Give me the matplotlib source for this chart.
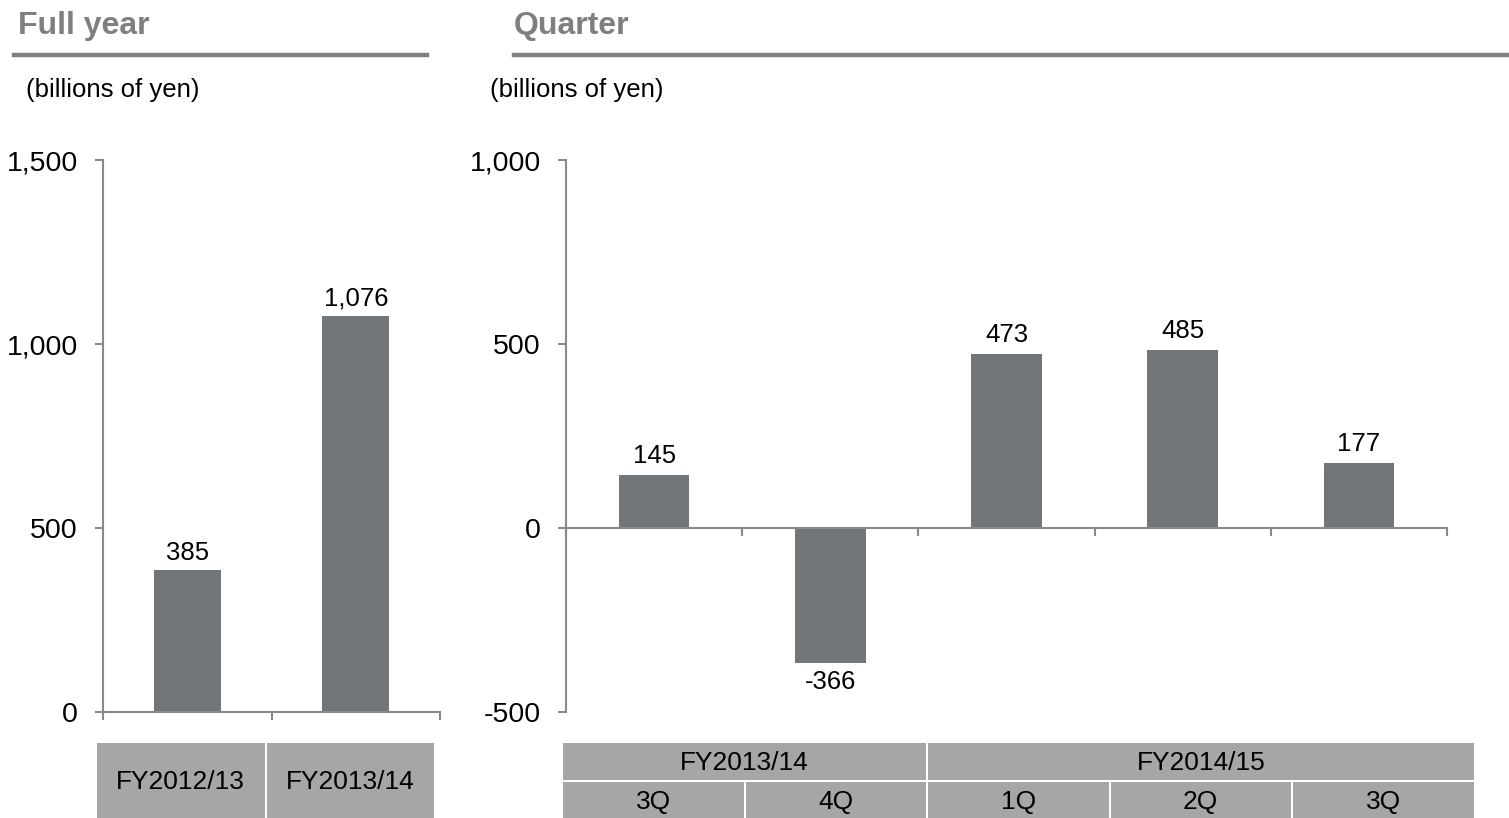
import matplotlib
matplotlib.use("Agg")
import matplotlib.pyplot as plt
from matplotlib.patches import Rectangle
from matplotlib.lines import Line2D
from matplotlib.ticker import FuncFormatter

plt.rcParams['font.family'] = ['Liberation Sans', 'DejaVu Sans']

# ---- data ----
fy_labels = ["FY2012/13", "FY2013/14"]
fy_values = [385, 1076]
q_groups = ["FY2013/14", "FY2014/15"]
q_group_sizes = [2, 3]
q_labels = ["3Q", "4Q", "1Q", "2Q", "3Q"]
q_values = [145, -366, 473, 485, 177]
fy_yticks = [0, 500, 1000, 1500]
q_yticks = [-500, 0, 500, 1000]

W, H = 1509, 818
BAR = "#737678"
AXC = "#8a8a8a"
CELL = "#a6a6a6"
HEAD = "#7f7f7f"

fig = plt.figure(figsize=(W / 100, H / 100), dpi=100)


def rect(x0, y0, x1, y1):
    """pixel box (top-left origin) -> figure fraction [l, b, w, h]"""
    return [x0 / W, 1 - y1 / H, (x1 - x0) / W, (y1 - y0) / H]


def fmt(v, _=None):
    return f"{int(v):,}"


def style_axes(ax, ncat):
    for s in ["top", "right"]:
        ax.spines[s].set_visible(False)
    for s in ["left", "bottom"]:
        ax.spines[s].set_color(AXC)
        ax.spines[s].set_linewidth(1.5)
    ax.set_xlim(0, ncat)
    ax.set_xticks(range(ncat + 1))
    ax.set_xticklabels([])
    ax.tick_params(axis="both", color=AXC, width=1.5, length=6, direction="out")
    ax.tick_params(axis="y", labelsize=20.5, pad=12)
    ax.yaxis.set_major_formatter(FuncFormatter(fmt))


# ---- headings ----
fig.text(18 / W, 1 - 26 / H, "Full year", fontsize=23, fontweight="bold",
         color=HEAD, va="center", ha="left")
fig.text(514 / W, 1 - 26 / H, "Quarter", fontsize=23, fontweight="bold",
         color=HEAD, va="center", ha="left")
fig.add_artist(Line2D([14 / W, 427 / W], [1 - 55 / H] * 2, color=HEAD, lw=3.2))
fig.add_artist(Line2D([514 / W, 1509 / W], [1 - 55 / H] * 2, color=HEAD, lw=3.2))
fig.text(26 / W, 1 - 90 / H, "(billions of yen)", fontsize=18.5, color="black",
         va="center", ha="left")
fig.text(490 / W, 1 - 90 / H, "(billions of yen)", fontsize=18.5, color="black",
         va="center", ha="left")

# ---- full year chart ----
ax1 = fig.add_axes(rect(103, 160, 440, 712))
x1 = [i + 0.5 for i in range(len(fy_values))]
b1 = ax1.bar(x1, fy_values, width=0.4, color=BAR, zorder=2)
ax1.set_ylim(0, 1500)
ax1.set_yticks(fy_yticks)
style_axes(ax1, len(fy_values))
ax1.bar_label(b1, labels=[fmt(v) for v in fy_values], padding=4, fontsize=18.5)

# ---- quarter chart ----
ax2 = fig.add_axes(rect(566, 160, 1447, 712))
x2 = [i + 0.5 for i in range(len(q_values))]
b2 = ax2.bar(x2, q_values, width=0.4, color=BAR, zorder=2)
ax2.set_ylim(-500, 1000)
ax2.set_yticks(q_yticks)
style_axes(ax2, len(q_values))
ax2.spines["bottom"].set_position(("data", 0))
ax2.bar_label(b2, labels=[fmt(v) for v in q_values], padding=5, fontsize=18.5)

# ---- tables ----
gap = 1.0
t1 = fig.add_axes(rect(97, 743, 434, 818))
t1.set_xlim(97, 434)
t1.set_ylim(818, 743)
t1.axis("off")
n = len(fy_labels)
cw = (434 - 97) / n
for i, lab in enumerate(fy_labels):
    xa = 97 + i * cw + (gap if i > 0 else 0)
    xb = 97 + (i + 1) * cw - (gap if i < n - 1 else 0)
    t1.add_patch(Rectangle((xa, 743), xb - xa, 75, color=CELL, lw=0))
    t1.text((xa + xb) / 2, 782, lab, fontsize=19, ha="center", va="center")

t2 = fig.add_axes(rect(563, 743, 1474, 818))
t2.set_xlim(563, 1474)
t2.set_ylim(818, 743)
t2.axis("off")
n = len(q_labels)
cw = (1474 - 563) / n
for i, lab in enumerate(q_labels):
    xa = 563 + i * cw + (gap if i > 0 else 0)
    xb = 563 + (i + 1) * cw - (gap if i < n - 1 else 0)
    t2.add_patch(Rectangle((xa, 782), xb - xa, 36, color=CELL, lw=0))
    t2.text((xa + xb) / 2, 802, lab, fontsize=19, ha="center", va="center")
start = 0
for g, size in zip(q_groups, q_group_sizes):
    xa = 563 + start * cw + (gap if start > 0 else 0)
    xb = 563 + (start + size) * cw - (gap if start + size < n else 0)
    t2.add_patch(Rectangle((xa, 743), xb - xa, 37, color=CELL, lw=0))
    t2.text((xa + xb) / 2, 763, g, fontsize=19, ha="center", va="center")
    start += size

fig.savefig("out.png", dpi=100, facecolor="white")
